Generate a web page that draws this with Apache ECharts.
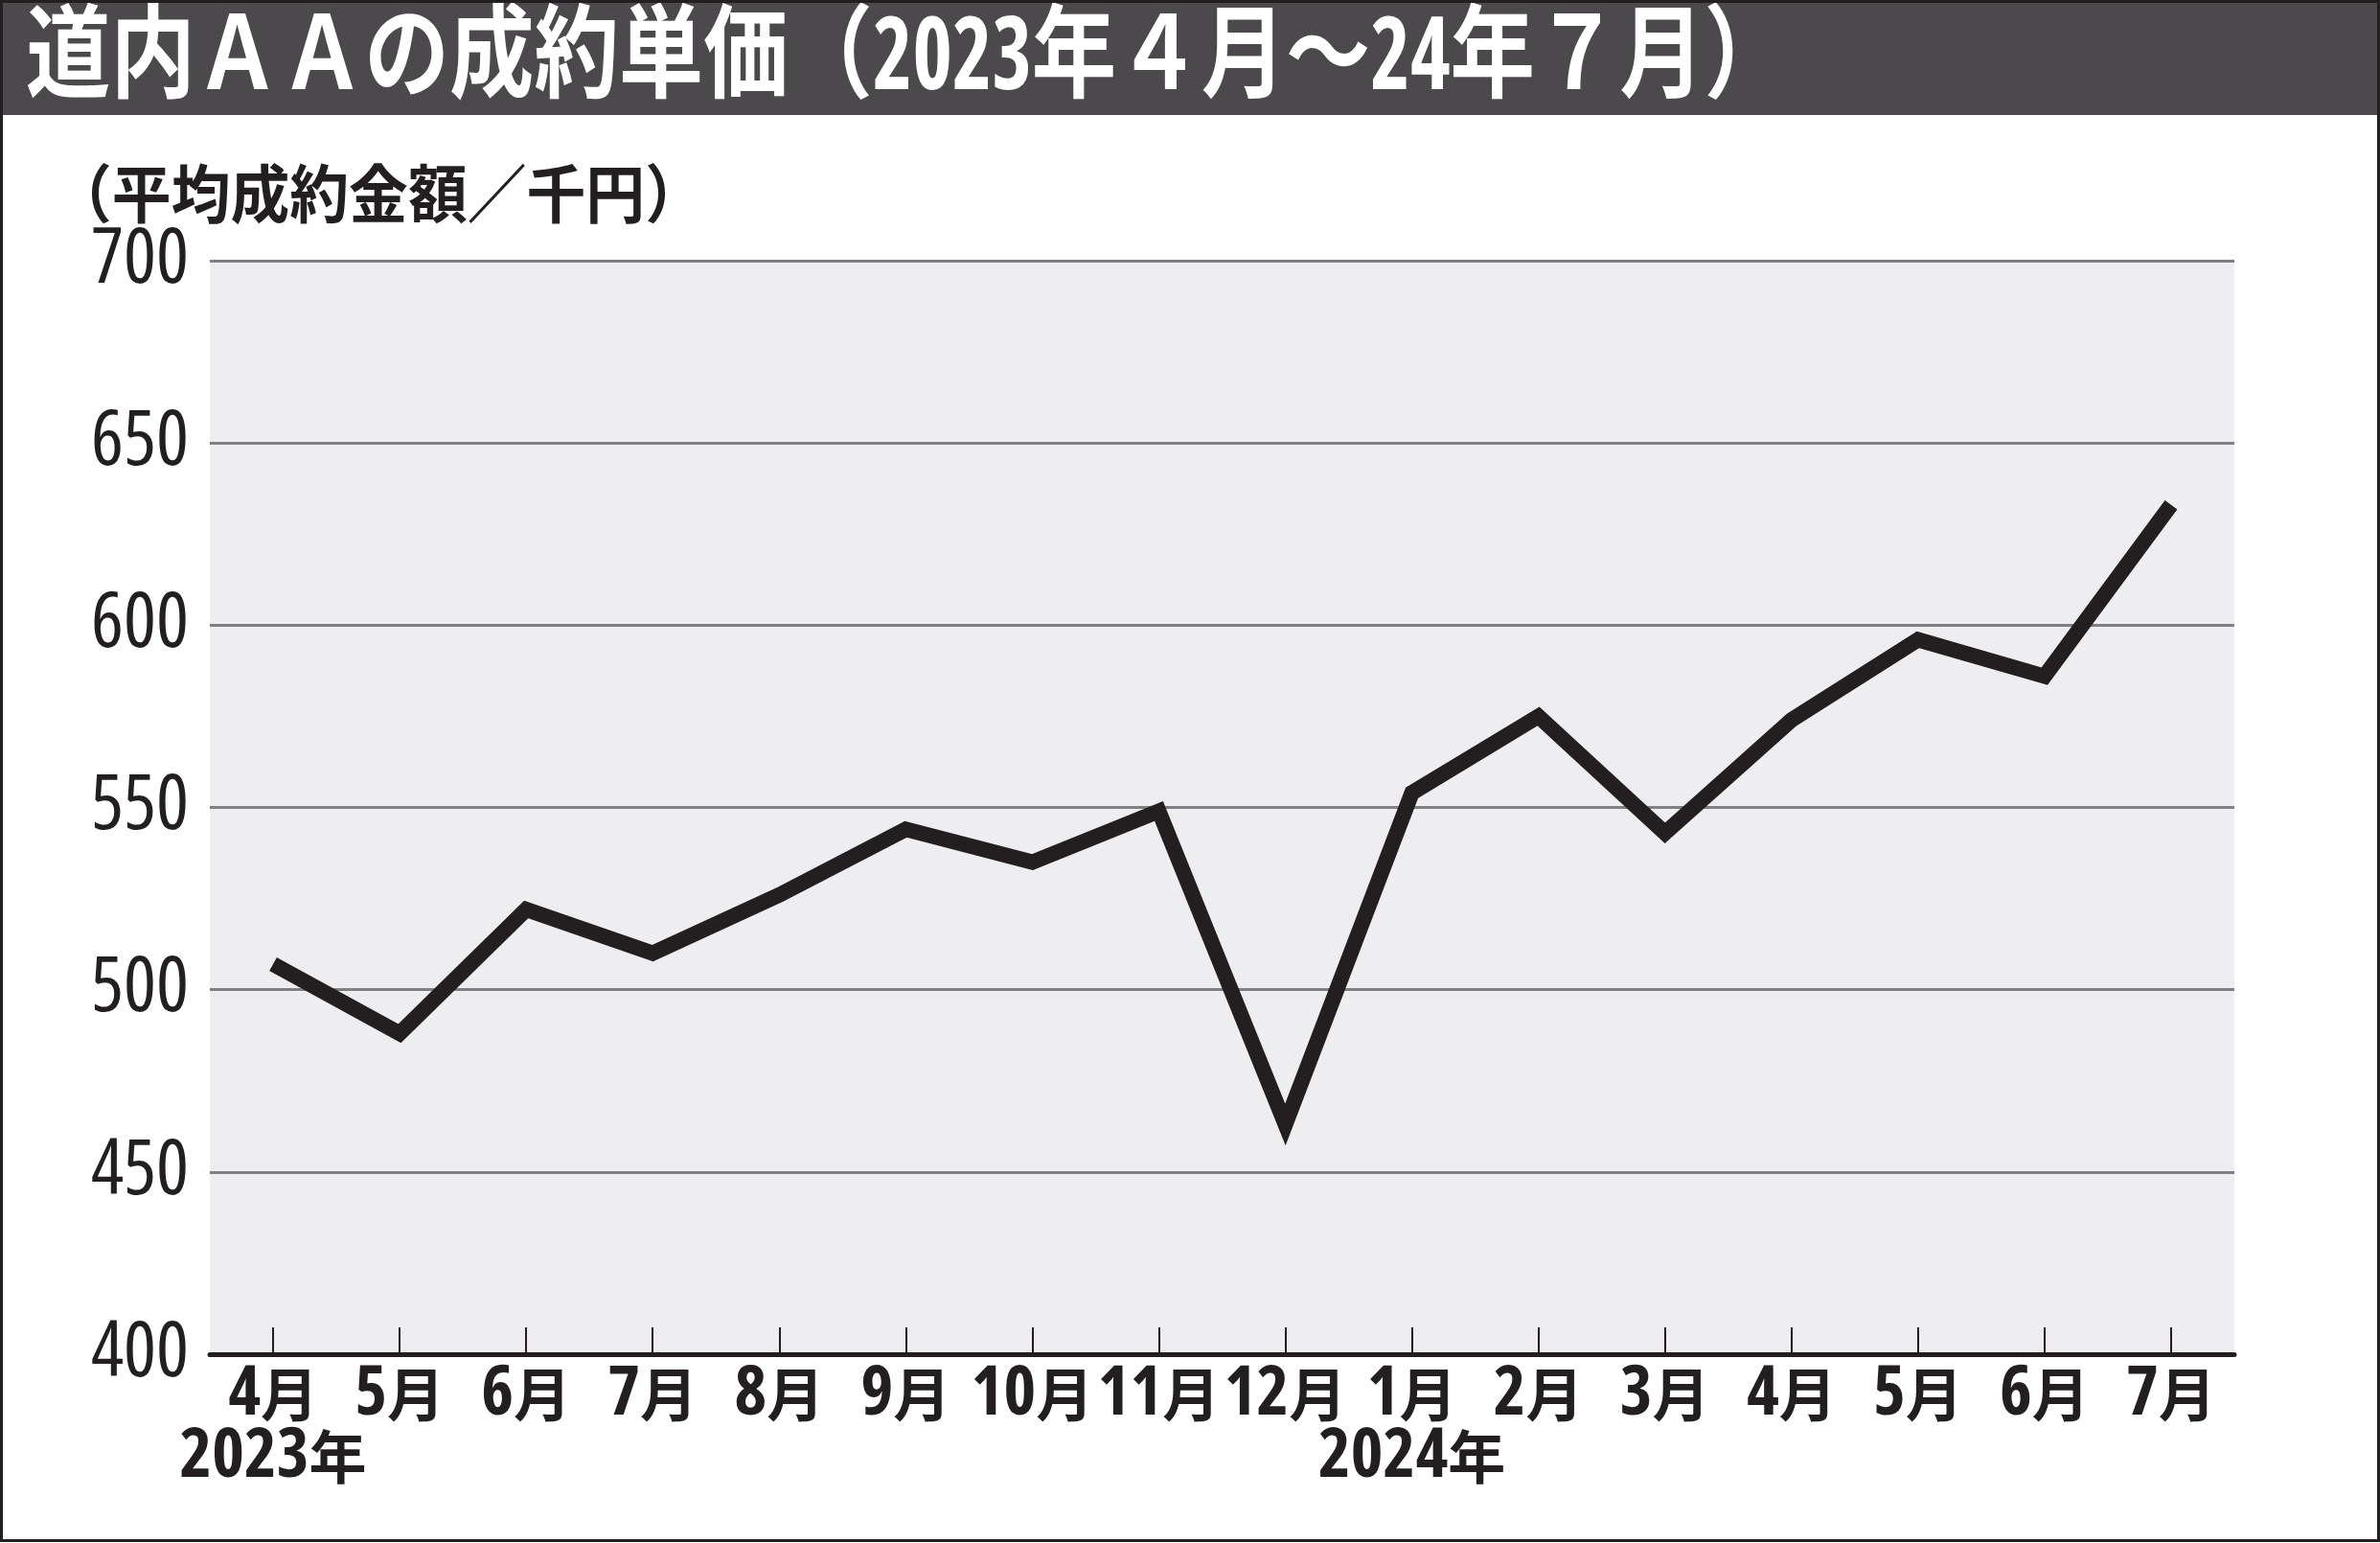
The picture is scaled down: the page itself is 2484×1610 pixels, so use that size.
<!DOCTYPE html>
<html><head><meta charset="utf-8">
<script src="https://cdn.jsdelivr.net/npm/echarts@6/dist/echarts.min.js"></script>
<style>html,body{margin:0;padding:0;background:#fff}#c{width:2484px;height:1610px}</style>
</head><body><div id="c"></div>
<script>
const titleText = '道内ＡＡの成約単価（2023年４月～24年７月）';
const yAxisName = '（平均成約金額／千円）';
const months = ['4月','5月','6月','7月','8月','9月','10月','11月','12月','1月','2月','3月','4月','5月','6月','7月'];
const yearLabels = {0: '2023年', 9: '2024年'};
const values = [507, 488, 522, 510, 526, 544, 535, 549, 463, 554, 575, 543, 574, 596, 586, 633];
const yTicks = {min: 400, max: 700, interval: 50};

const FAM = "'Open Sans', 'Noto Sans CJK JP', sans-serif";
const CJK = "'Noto Sans CJK JP', sans-serif";
const INK = '#231f20';

function fitScale(text, font, target) {
  const ctx = document.createElement('canvas').getContext('2d');
  ctx.font = font;
  return target / ctx.measureText(text).width;
}
const titleFont = 'condensed bold 106px ' + FAM;
const nameFont = 'condensed bold 66px ' + FAM;
const titleScale = fitScale(titleText, titleFont, 1840);
const nameScale = fitScale(yAxisName, nameFont, 680);

function splitLabel(s) {
  const m = s.match(/^(\d+)(.*)$/);
  return m ? '{d|' + m[1] + '}{k|' + m[2] + '}' : '{k|' + s + '}';
}

const chart = echarts.init(document.getElementById('c'), null, {renderer: 'canvas'});
chart.setOption({
  backgroundColor: '#ffffff',
  animation: false,
  grid: {left: 219, right: 152, top: 272, bottom: 197, show: true, backgroundColor: '#eeeef0', borderWidth: 0},
  xAxis: {
    type: 'category', data: months, boundaryGap: true,
    axisLine: {lineStyle: {color: INK, width: 5}},
    axisTick: {show: true, inside: true, alignWithLabel: true, length: 28, lineStyle: {color: INK, width: 2}},
    axisLabel: {
      interval: 0, margin: 10, color: INK,
      formatter: (v, i) => yearLabels[i] ? splitLabel(v) + '\n' + splitLabel(yearLabels[i]) : splitLabel(v),
      rich: {
        d: {fontFamily: FAM, fontStyle: 'condensed', fontSize: 72, fontWeight: 'bold', lineHeight: 65, color: INK, verticalAlign: 'middle'},
        k: {fontFamily: CJK, fontSize: 60, fontWeight: 'bold', lineHeight: 65, color: INK, verticalAlign: 'middle'}
      }
    }
  },
  yAxis: {
    type: 'value', min: yTicks.min, max: yTicks.max, interval: yTicks.interval,
    axisLine: {show: false}, axisTick: {show: false},
    splitLine: {lineStyle: {color: '#808082', width: 3}},
    axisLabel: {fontFamily: FAM, fontStyle: 'condensed', fontWeight: 500, fontSize: 80, color: INK, margin: 22}
  },
  series: [{
    type: 'line', data: values, symbol: 'none',
    lineStyle: {color: INK, width: 16, join: 'miter'}
  }],
  graphic: [
    {type: 'rect', shape: {x: 0, y: 0, width: 2484, height: 120}, style: {fill: '#4b494c'}, z: 100},
    {type: 'text', x: 27, y: 63, scaleX: titleScale, z: 101,
     style: {text: titleText, font: titleFont, fill: '#ffffff', textVerticalAlign: 'middle', textAlign: 'left'}},
    {type: 'text', x: 55, y: 208, scaleX: nameScale, z: 101,
     style: {text: yAxisName, font: nameFont, fill: INK, textVerticalAlign: 'middle', textAlign: 'left'}},
    {type: 'rect', shape: {x: 1.5, y: 1.5, width: 2481, height: 1606}, style: {fill: 'none', stroke: INK, lineWidth: 3}, z: 102}
  ]
});
</script></body></html>
